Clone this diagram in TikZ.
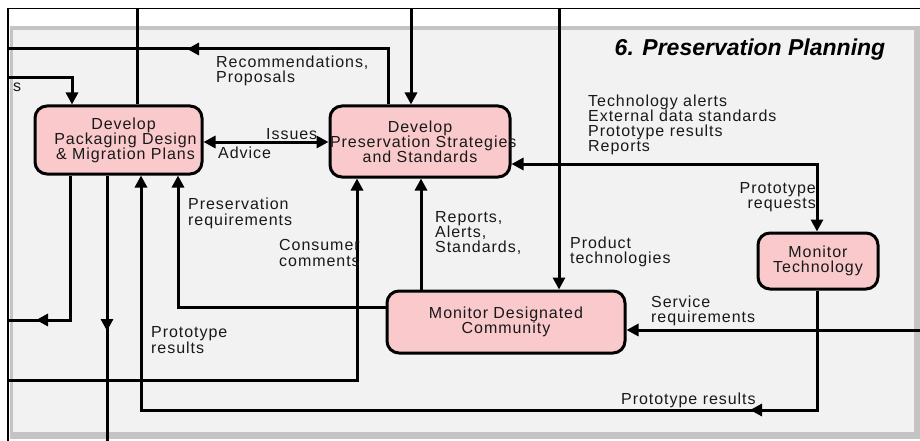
\documentclass[tikz,border=0pt]{standalone}
\usepackage{fontspec}
\setmainfont{Liberation Sans}
\newfontfamily\lblfont[LetterSpace=6]{Liberation Sans}
\usetikzlibrary{arrows.meta,positioning}
\definecolor{boxpink}{RGB}{249,201,204}
\definecolor{panelgray}{RGB}{242,242,242}
\definecolor{shadegray}{RGB}{196,196,196}
\definecolor{txtgray}{RGB}{25,25,25}
\tikzset{
	proc/.style={draw, line width=3pt, rounded corners=12pt, fill=boxpink, inner sep=0pt,
		align=center, text=txtgray, font=\lblfont\fontsize{16}{15}\selectfont},
	lbl/.style={inner sep=0pt, align=left, text=txtgray, font=\lblfont\fontsize{16}{15}\selectfont},
	line/.style={line width=3pt},
	flow/.style={line width=3pt, -{Triangle[length=12pt,width=12pt]}},
	twoway/.style={line width=3pt, {Triangle[length=12pt,width=12pt]}-{Triangle[length=12pt,width=12pt]}}
}

\begin{document}
\begin{tikzpicture}[x=1pt,y=-1pt]
	\useasboundingbox (0,0) rectangle (920,441);
	% panel and frame
	\fill[shadegray] (10,26) rectangle (920,439);
	\fill[panelgray] (13,30) rectangle (914,432);
	\draw[line width=1.5pt] (8,441) -- (8,8.5) -- (920,8.5);
	\node[font=\fontsize{23}{26}\selectfont\bfseries\itshape, inner sep=0pt] (title) at (750,50) {6. Preservation Planning};

	\node[proc, text width=167pt, minimum height=68pt] (pack) at (118.5,140) {\hspace*{10pt}Develop\\\hspace*{14pt}\mbox{Packaging Design}\\\hspace*{14pt}\mbox{\& Migration Plans}};
	\node[proc, text width=180pt, minimum height=71pt] (strat) at (420,141.5) {Develop\\\mbox{Preservation Strategies}\\\mbox{and Standards}};
	\node[proc, text width=238pt, minimum height=62pt] (comm) at (506,322) {\mbox{Monitor Designated}\\Community};
	\node[proc, text width=120pt, minimum height=56pt] (tech) at (818,261) {Monitor\\Technology};

	% connectors
	\draw[line] (137,8.5) -- (137,0 |- pack.north);
	\draw[flow] (388,0 |- strat.north) -- (388,49) -- (187,49);
	\draw[line] (196,49) -- (8,49);
	\draw[flow] (8,78) -- (72,78) -- (72,0 |- pack.north);
	\draw[flow] (411,8.5) -- (411,0 |- strat.north);
	\draw[flow] (559,8.5) -- (559,0 |- comm.north);
	\draw[twoway] (pack.east |- 0,142) -- (strat.west |- 0,142);
	\draw[twoway] (strat.east |- 0,164) -- (817,164) -- (817,0 |- tech.north);
	\draw[flow] (817,0 |- tech.south) -- (817,410) -- (750,410);
	\draw[flow] (758,410) -- (141,410) -- (141,0 |- pack.south);
	\draw[flow] (920,330) -- (comm.east |- 0,330);
	\draw[flow] (comm.west |- 0,307) -- (178,307) -- (178,0 |- pack.south);
	\draw[flow] (421,0 |- comm.north) -- (421,0 |- strat.south);
	\draw[flow] (8,380) -- (357,380) -- (357,0 |- strat.south);
	\draw[flow] (70,0 |- pack.south) -- (70,320) -- (36,320);
	\draw[line] (44,320) -- (8,320);
	\draw[flow] (107,0 |- pack.south) -- (107,331);
	\draw[line] (107,322) -- (107,441);

	% labels
	\node[lbl, anchor=north west] (recom) at (216,56) {Recommendations,\\Proposals};
	\node[lbl, anchor=north west] (cut) at (13,83) {s};
	\node[lbl, anchor=north west] (issues) at (266,128) {Issues};
	\node[lbl, anchor=north west] (advice) at (218,147) {Advice};
	\node[lbl, anchor=north west] (alerts) at (588,95) {Technology alerts\\External data standards\\Prototype results\\Reports};
	\node[lbl, anchor=north east, align=right] (protoreq) at (816,182) {Prototype\\requests};
	\node[lbl, anchor=north west, font=\lblfont\fontsize{16}{16}\selectfont] (presreq) at (188,198) {Preservation\\requirements};
	\node[lbl, anchor=north west, font=\lblfont\fontsize{16}{16}\selectfont] (consum) at (279,239) {Consumer\\comments};
	\node[lbl, anchor=north west] (reports) at (435,211) {Reports,\\Alerts,\\Standards,};
	\node[lbl, anchor=north west] (prodtech) at (570,237) {Product\\technologies};
	\node[lbl, anchor=north west] (servreq) at (651,296) {Service\\requirements};
	\node[lbl, anchor=north west] (protores) at (621,393) {Prototype results};
	\node[lbl, anchor=north west, font=\lblfont\fontsize{16}{16}\selectfont] (protoresl) at (151,326) {Prototype\\results};
\end{tikzpicture}
\end{document}
